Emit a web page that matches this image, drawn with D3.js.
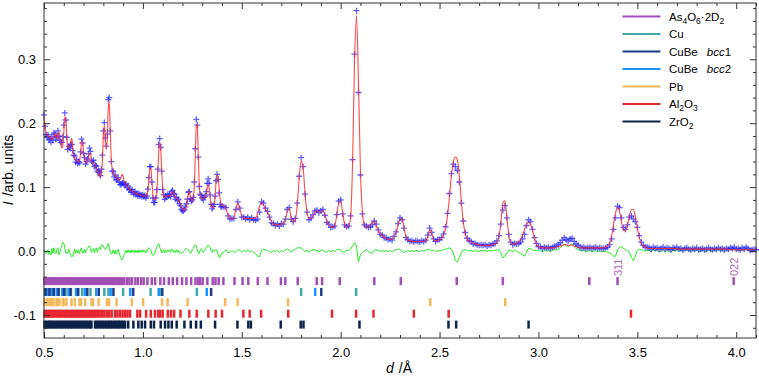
<!DOCTYPE html>
<html>
<head>
<meta charset="utf-8">
<script src="https://cdn.jsdelivr.net/npm/d3@7"></script>
<style>
  body { margin: 0; background: #fff; }
  text { font-family: "Liberation Sans", Arial, sans-serif; fill: #000; }
</style>
</head>
<body>
<svg id="chart" width="759" height="376"></svg>
<script>
// d grid of the pattern: [start, step, count]
var gridSegments = [[0.5, 0.005, 180], [1.4, 0.01, 271]];

// calculated profile, units of 0.001 arb.
var calcI = [
  210,197,186,181,180,179,178,176,175,176,
  180,184,179,176,183,186,176,166,161,165,
  185,210,208,180,163,161,163,172,176,165,
  152,146,143,141,140,139,142,153,170,172,
  155,143,139,138,140,145,153,153,143,137,
  138,135,131,128,126,122,117,116,120,140,
  180,196,175,160,175,225,234,190,145,128,
  123,120,118,116,114,112,111,112,116,120,
  117,110,106,104,102,100,98,96,95,94,
  93,92,91,90,89,89,88,88,87,87,
  86,86,86,86,88,94,110,128,130,112,
  90,82,80,81,90,118,155,170,160,128,
  98,86,84,85,86,87,87,86,87,90,
  93,92,88,84,82,81,80,77,73,69,
  66,64,64,66,70,78,90,94,86,80,
  78,80,100,150,198,195,150,105,87,83,
  82,82,83,84,88,98,104,98,83,72,
  68,68,72,85,108,119,117,100,83,75,
  73,70,66,58,52,50,53,66,75,66,
  55,52,51,51,51,51,51,52,58,70,
  76,72,65,61,54,46,42,41,41,41,
  42,43,48,62,66,52,45,48,70,112,
  141,130,90,60,51,51,55,61,63,61,
  62,63,57,47,41,38,37,40,55,75,
  78,60,42,37,38,52,135,295,368,265,
  125,60,40,37,38,40,45,46,40,32,
  27,24,22,20,19,18,19,22,28,40,
  49,50,38,22,17,16,15,15,15,15,
  15,15,15,16,22,34,28,18,16,17,
  18,20,25,35,55,85,118,140,147,143,
  118,78,45,27,19,16,14,12,11,10,
  10,9,9,9,9,9,9,10,11,14,
  22,45,75,79,55,25,13,11,11,12,
  14,18,25,34,42,45,42,32,20,11,
  7,6,5,5,5,5,5,5,5,6,
  7,8,9,10,10,9,9,9,8,7,
  6,5,5,5,5,5,5,5,5,5,
  5,5,5,5,6,8,13,24,42,60,
  68,62,45,33,32,40,55,65,65,54,
  36,21,12,8,6,5,4,4,4,4,
  4,4,4,4,4,4,4,4,4,4,
  4,3,3,3,3,3,3,3,3,3,
  3,3,3,3,3,3,3,3,3,3,
  3,3,3,3,3,3,2,2,2,2,
  2,2,2,2,2,2,2,2,2,2,
  2
];

// observed intensities, units of 0.001 arb.
var obsI = [
  213,195,182,178,182,174,176,170,179,173,
  185,183,175,178,188,180,173,170,170,179,
  197,216,205,178,159,164,161,166,167,157,
  150,149,139,143,137,140,138,155,175,169,
  153,146,136,140,144,152,161,156,141,139,
  142,132,134,133,124,126,123,118,128,150,
  188,201,177,164,183,237,240,188,140,125,
  125,116,119,111,112,115,108,104,104,106,
  107,104,104,105,99,102,96,97,92,96,
  92,89,93,88,90,86,90,86,88,85,
  88,85,87,83,86,97,115,132,132,108,
  83,76,76,83,96,128,167,176,162,125,
  96,88,81,86,84,89,86,88,85,93,
  95,90,89,81,84,79,81,74,71,65,
  63,63,65,69,74,81,92,93,82,78,
  80,84,108,160,206,197,147,101,89,87,
  83,80,84,86,93,106,113,106,88,73,
  66,70,73,86,110,120,112,91,73,69,
  70,69,68,55,50,51,51,65,77,67,
  53,53,50,53,49,52,49,48,50,61,
  77,75,67,62,53,44,43,40,42,39,
  43,42,50,65,68,50,46,51,75,117,
  146,132,89,61,49,52,57,63,64,60,
  63,65,56,45,42,37,38,39,57,78,
  80,58,41,38,39,55,143,308,376,248,
  119,58,41,39,37,38,41,47,42,33,
  26,25,21,21,18,19,17,23,30,43,
  52,49,36,21,18,15,16,14,16,15,
  14,16,15,17,25,36,29,19,15,18,
  18,21,27,38,59,90,121,136,132,126,
  108,75,47,29,20,16,15,11,12,10,
  9,10,9,10,8,10,9,11,12,16,
  24,42,64,71,52,26,14,10,12,11,
  12,14,19,26,40,49,46,34,21,12,
  7,7,4,6,5,6,4,6,7,8,
  10,13,17,21,18,16,19,20,15,11,
  9,6,5,6,4,5,6,4,5,6,
  4,5,4,4,5,6,10,19,34,52,
  70,68,52,37,34,41,53,55,50,46,
  37,24,14,9,6,6,5,3,6,4,
  5,3,4,6,3,5,4,2,5,4,
  6,3,4,2,4,5,3,2,4,3,
  5,2,3,4,2,3,5,3,2,4,
  3,5,3,4,2,4,3,5,4,6,
  3,4,2,5,3,6,4,1,2,3,
  2
];

// Bragg reflection positions (d, Å)
var ticksAs = [0.502,0.510,0.519,0.527,0.535,0.544,0.552,0.561,0.569,0.578,0.586,0.594,0.603,0.611,0.620,0.628,
  0.637,0.645,0.654,0.662,0.671,0.680,0.688,0.697,0.706,0.715,0.724,0.732,0.741,0.750,0.759,0.768,0.777,0.786,
  0.795,0.804,0.813,0.822,0.831,0.840,0.849,0.858,0.867,0.876,0.885,0.894,0.906,0.920,0.932,0.945,0.962,0.975,
  0.991,1.004,1.023,1.045,1.062,1.088,1.107,1.131,1.151,1.173,1.198,1.220,1.244,1.266,1.280,1.289,1.302,1.326,
  1.353,1.367,1.383,1.407,1.463,1.504,1.533,1.581,1.630,1.698,1.720,1.783,1.879,1.906,1.995,2.170,2.304,2.587,
  2.820,3.257,3.400,3.987];
var ticksCu = [2.078,1.800,1.273,1.085,1.039,0.900,0.826,0.805,0.735,0.693,0.636,0.609,0.600,0.569,0.549,0.543,0.520,0.504];
var ticksBcc1 = [1.902,1.345,1.098,0.951,0.851,0.777,0.719,0.673,0.634,0.602,0.574,0.549,0.528,0.508];
var ticksBcc2 = [1.871,1.323,1.080,0.936,0.837,0.764,0.707,0.662,0.624,0.592,0.564,0.540,0.519];
var ticksPb = [2.832,2.453,1.734,1.479,1.416,1.226,1.125,1.097,1.001,0.944,0.867,0.829,0.818,0.776,0.748,0.740,
  0.708,0.687,0.680,0.656,0.639,0.613,0.599,0.595,0.578,0.566,0.563,0.548,0.538,0.535,0.523,0.514,0.501];
var ticksAl = [0.502,0.510,0.518,0.526,0.534,0.541,0.549,0.557,0.566,0.574,0.581,0.589,0.598,0.606,0.613,0.621,
  0.630,0.638,0.645,0.653,0.662,0.670,0.677,0.686,0.694,0.702,0.709,0.718,0.726,0.733,0.742,0.750,0.757,0.766,
  0.774,0.781,0.792,0.805,0.817,0.830,0.842,0.859,0.871,0.884,0.897,0.910,0.922,0.935,0.972,0.986,1.016,1.040,
  1.061,1.078,1.087,1.100,1.126,1.142,1.158,1.190,1.235,1.272,1.331,1.368,1.400,1.508,1.540,1.598,1.735,1.956,
  2.078,2.166,2.370,2.546,3.468];
var ticksZr = [0.502,0.510,0.518,0.526,0.533,0.541,0.549,0.557,0.565,0.573,0.581,0.589,0.597,0.605,0.613,0.621,
  0.629,0.637,0.645,0.653,0.661,0.669,0.677,0.685,0.693,0.701,0.709,0.717,0.725,0.733,0.740,0.758,0.766,0.774,
  0.782,0.790,0.798,0.806,0.814,0.822,0.830,0.838,0.846,0.854,0.862,0.870,0.878,0.886,0.894,0.902,0.910,0.926,
  0.952,0.977,0.994,1.011,1.040,1.056,1.090,1.112,1.129,1.146,1.171,1.210,1.242,1.269,1.293,1.365,1.478,1.533,
  1.546,1.697,1.798,1.812,2.095,2.545,2.584,2.950];

// hkl labels on As4O6·2D2 reflections
var annoD = [3.400, 3.987];
var annoText = ["311", "022"];

// legend labels, split into [text, kind] pieces
var legendLabels = [
  [["As", ""], ["4", "sub"], ["O", ""], ["6", "sub"], ["·2D", ""], ["2", "sub"]],
  [["Cu", ""]],
  [["CuBe", ""], ["bcc", "it"], ["1", ""]],
  [["CuBe", ""], ["bcc", "it"], ["2", ""]],
  [["Pb", ""]],
  [["Al", ""], ["2", "sub"], ["O", ""], ["3", "sub"]],
  [["Zr", ""], ["O", ""], ["2", "sub"]]
];
var legendColors = ["#a24fb5", "#3fa9a9", "#1f3c88", "#1e90ff", "#f5b95a", "#e8262f", "#0d2448"];

var xTicks = [0.5, 1.0, 1.5, 2.0, 2.5, 3.0, 3.5, 4.0];
var yTicks = [-0.1, 0.0, 0.1, 0.2, 0.3];

// ---------------------------------------------------------------
var dGrid = [];
gridSegments.forEach(function (s) {
  for (var i = 0; i < s[2]; i++) dGrid.push(+(s[0] + s[1] * i).toFixed(3));
});
var pattern = dGrid.map(function (d, i) {
  return { d: d, obs: obsI[i] / 1000, calc: calcI[i] / 1000, diff: (obsI[i] - calcI[i]) / 1000 };
});

var L = 44, R = 756, T = 3, B = 338;
var svg = d3.select('#chart');
var x = d3.scaleLinear().domain([0.5, 4.1]).range([L, R]);
var y = d3.scaleLinear().domain([-0.136, 0.388]).range([B, T]);

// difference curve
svg.append('path')
  .datum(pattern)
  .attr('fill', 'none')
  .attr('stroke', '#22ee22')
  .attr('stroke-width', 1)
  .attr('d', d3.line().x(function (p) { return x(p.d); }).y(function (p) { return y(p.diff); }));

// reflection rows
var rows = [
  { ticks: ticksAs, color: legendColors[0], level: -0.047 },
  { ticks: ticksCu, color: legendColors[1], level: -0.064 },
  { ticks: ticksBcc2, color: legendColors[3], level: -0.064 },
  { ticks: ticksBcc1, color: legendColors[2], level: -0.064 },
  { ticks: ticksPb, color: legendColors[4], level: -0.080 },
  { ticks: ticksAl, color: legendColors[5], level: -0.098 },
  { ticks: ticksZr, color: legendColors[6], level: -0.115 }
];
rows.forEach(function (r) {
  svg.append('g').selectAll('rect')
    .data(r.ticks)
    .enter()
    .append('rect')
    .attr('x', function (d) { return x(d) - 1.25; })
    .attr('y', y(r.level) - 4)
    .attr('width', 2.5)
    .attr('height', 8)
    .attr('fill', r.color);
});

// hkl labels
svg.append('g').selectAll('text')
  .data(annoD)
  .enter()
  .append('text')
  .attr('transform', function (d) { return 'translate(' + (x(d) + 4) + ',' + (y(-0.047) - 5) + ') rotate(-90)'; })
  .style('font-size', '11px')
  .style('fill', '#b06ec0')
  .text(function (d, i) { return annoText[i]; });

// observed points
svg.append('g').selectAll('path')
  .data(pattern)
  .enter()
  .append('path')
  .attr('transform', function (p) { return 'translate(' + x(p.d) + ',' + y(p.obs) + ')'; })
  .attr('d', 'M-3,0H3M0,-3V3')
  .attr('stroke', '#1c1cff')
  .attr('stroke-width', 1.3)
  .attr('opacity', 0.7);

// calculated profile
svg.append('path')
  .datum(pattern)
  .attr('fill', 'none')
  .attr('stroke', '#ff2a2a')
  .attr('stroke-width', 1.1)
  .attr('opacity', 0.85)
  .attr('d', d3.line().curve(d3.curveMonotoneX)
    .x(function (p) { return x(p.d); }).y(function (p) { return y(p.calc); }));

// axes
var xMinor = d3.range(5, 42).map(function (v) { return v / 10; }).filter(function (v) { return xTicks.indexOf(v) < 0; });
var yMinor = d3.range(-6, 20).map(function (v) { return v / 50; }).filter(function (v) {
  return yTicks.every(function (t) { return Math.abs(t - v) > 1e-6; });
});
var fmt = function (v) { return v.toFixed(1); };

function addAxis(axis, tx, ty) {
  var g = svg.append('g').attr('transform', 'translate(' + tx + ',' + ty + ')').call(axis);
  g.select('.domain').remove();
  g.selectAll('line').attr('stroke', '#333');
  g.selectAll('text').style('font-size', '13px').style('font-family', '"Liberation Sans", Arial, sans-serif').attr('fill', '#000');
  return g;
}
addAxis(d3.axisBottom(x).tickValues(xTicks).tickFormat(fmt).tickSize(-6).tickPadding(10), 0, B);
addAxis(d3.axisBottom(x).tickValues(xMinor).tickFormat('').tickSize(-3), 0, B);
addAxis(d3.axisTop(x).tickValues(xTicks).tickFormat('').tickSize(-6), 0, T);
addAxis(d3.axisTop(x).tickValues(xMinor).tickFormat('').tickSize(-3), 0, T);
addAxis(d3.axisLeft(y).tickValues(yTicks).tickFormat(fmt).tickSize(-6).tickPadding(8), L, 0);
addAxis(d3.axisLeft(y).tickValues(yMinor).tickFormat('').tickSize(-3), L, 0);
addAxis(d3.axisRight(y).tickValues(yTicks).tickFormat('').tickSize(-6), R, 0);
addAxis(d3.axisRight(y).tickValues(yMinor).tickFormat('').tickSize(-3), R, 0);

svg.append('rect')
  .attr('x', L).attr('y', T).attr('width', R - L).attr('height', B - T)
  .attr('fill', 'none').attr('stroke', '#333').attr('stroke-width', 1);

// axis titles
var xt = svg.append('text').attr('x', 386).attr('y', 373).style('font-size', '14px');
xt.append('tspan').style('font-style', 'italic').text('d');
xt.append('tspan').attr('dx', 5).text('/Å');

var yt = svg.append('text')
  .attr('transform', 'translate(13,170) rotate(-90)')
  .attr('text-anchor', 'middle')
  .style('font-size', '14px');
yt.append('tspan').style('font-style', 'italic').text('I');
yt.append('tspan').attr('dx', 5).text('/arb. units');

// legend
var leg = svg.append('g');
legendLabels.forEach(function (parts, i) {
  var ly = 16.5 + i * 17.5;
  leg.append('line')
    .attr('x1', 622.5).attr('x2', 660.5).attr('y1', ly).attr('y2', ly)
    .attr('stroke', legendColors[i]).attr('stroke-width', 2);
  var t = leg.append('text').attr('x', 669).attr('y', ly + 4).style('font-size', '11.5px');
  var shift = 0;
  parts.forEach(function (p) {
    var s = t.append('tspan').text(p[0]);
    if (p[1] === 'sub') {
      s.style('font-size', '8.5px').attr('dy', 3 - shift);
      shift = 3;
    } else {
      if (shift) { s.attr('dy', -shift); shift = 0; }
      if (p[1] === 'it') s.style('font-style', 'italic').attr('dx', 9);
    }
  });
});
</script>
</body>
</html>
